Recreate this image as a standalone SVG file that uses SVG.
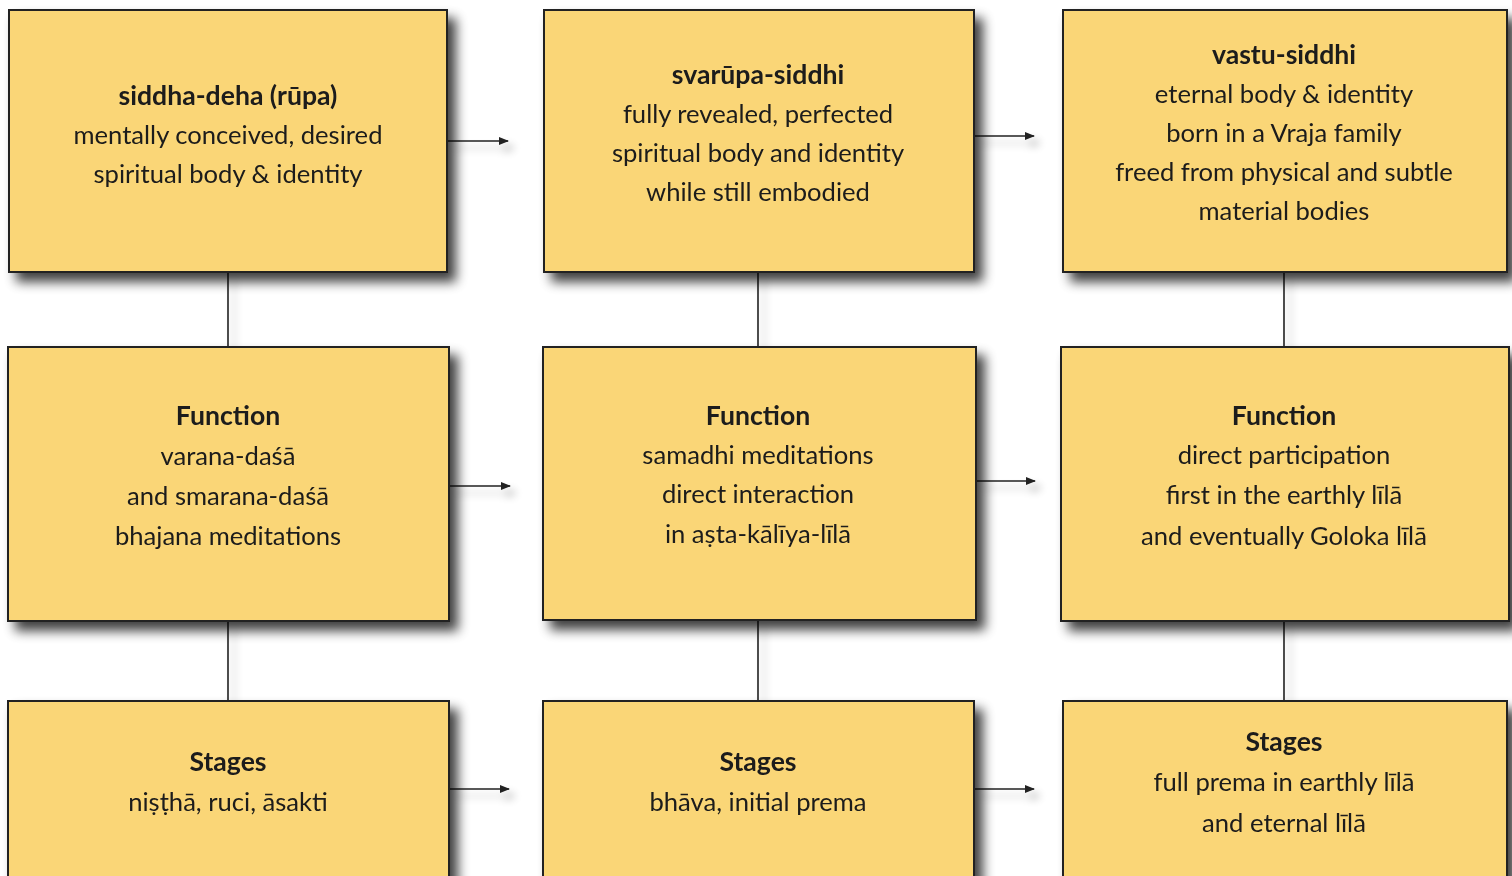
<svg xmlns="http://www.w3.org/2000/svg" width="1512" height="876" viewBox="0 0 1512 876">
  <style>
    .box { fill: #FAD677; stroke: #222; stroke-width: 2; }
    .t { font-family: Lato, "Open Sans", "Noto Sans", sans-serif; font-size: 25.6px; fill: #1a1a1a; text-anchor: middle; }
    .h { font-weight: bold; font-size: 26.6px; }
    .ln { stroke: #222; stroke-width: 1.6; fill: none; }
  </style>
  <defs>
    <filter id="shadow" x="-10%" y="-10%" width="130%" height="140%">
      <feGaussianBlur in="SourceAlpha" stdDeviation="6"/>
      <feOffset dx="8" dy="9" result="b"/>
      <feComponentTransfer><feFuncA type="linear" slope="0.75"/></feComponentTransfer>
      <feMerge><feMergeNode/><feMergeNode in="SourceGraphic"/></feMerge>
    </filter>
    <filter id="lshadow" x="-20%" y="-50%" width="140%" height="300%">
      <feGaussianBlur in="SourceAlpha" stdDeviation="4"/>
      <feOffset dx="6" dy="7"/>
      <feComponentTransfer><feFuncA type="linear" slope="0.3"/></feComponentTransfer>
      <feMerge><feMergeNode/><feMergeNode in="SourceGraphic"/></feMerge>
    </filter>
    <marker id="arrow" markerWidth="10" markerHeight="8" refX="9" refY="4" orient="auto" markerUnits="userSpaceOnUse">
      <path d="M0,0 L10,4 L0,8 Z" fill="#222"/>
    </marker>
  </defs>
  <rect width="1512" height="876" fill="#fff"/>

  <!-- connectors -->
  <g id="connectors" filter="url(#lshadow)">
    <line class="ln" x1="228" y1="272" x2="228" y2="347"/>
    <line class="ln" x1="758" y1="272" x2="758" y2="347"/>
    <line class="ln" x1="1284" y1="272" x2="1284" y2="347"/>
    <line class="ln" x1="228" y1="621" x2="228" y2="701"/>
    <line class="ln" x1="758" y1="620" x2="758" y2="701"/>
    <line class="ln" x1="1284" y1="621" x2="1284" y2="701"/>
    <line class="ln" x1="448" y1="141" x2="508" y2="141" marker-end="url(#arrow)"/>
    <line class="ln" x1="975" y1="136" x2="1034" y2="136" marker-end="url(#arrow)"/>
    <line class="ln" x1="450" y1="486" x2="510" y2="486" marker-end="url(#arrow)"/>
    <line class="ln" x1="977" y1="481" x2="1035" y2="481" marker-end="url(#arrow)"/>
    <line class="ln" x1="450" y1="789" x2="509" y2="789" marker-end="url(#arrow)"/>
    <line class="ln" x1="975" y1="789" x2="1034" y2="789" marker-end="url(#arrow)"/>
  </g>

  <!-- row 1 -->
  <g id="siddha-deha" filter="url(#shadow)">
    <rect class="box" x="9" y="10" width="438" height="262"/>
    <text class="t"><tspan class="h" x="228" y="105">siddha-deha (rūpa)</tspan><tspan x="228" y="144">mentally conceived, desired</tspan><tspan x="228" y="183">spiritual body &amp; identity</tspan></text>
  </g>
  <g id="svarupa-siddhi" filter="url(#shadow)">
    <rect class="box" x="544" y="10" width="430" height="262"/>
    <text class="t"><tspan class="h" x="758" y="84">svarūpa-siddhi</tspan><tspan x="758" y="123">fully revealed, perfected</tspan><tspan x="758" y="162">spiritual body and identity</tspan><tspan x="758" y="201">while still embodied</tspan></text>
  </g>
  <g id="vastu-siddhi" filter="url(#shadow)">
    <rect class="box" x="1063" y="10" width="444" height="262"/>
    <text class="t"><tspan class="h" x="1284" y="64">vastu-siddhi</tspan><tspan x="1284" y="103">eternal body &amp; identity</tspan><tspan x="1284" y="142">born in a Vraja family</tspan><tspan x="1284" y="181">freed from physical and subtle</tspan><tspan x="1284" y="220">material bodies</tspan></text>
  </g>

  <!-- row 2 -->
  <g id="function-1" filter="url(#shadow)">
    <rect class="box" x="8" y="347" width="441" height="274"/>
    <text class="t"><tspan class="h" x="228" y="425">Function</tspan><tspan x="228" y="465">varana-daśā</tspan><tspan x="228" y="505">and smarana-daśā</tspan><tspan x="228" y="545">bhajana meditations</tspan></text>
  </g>
  <g id="function-2" filter="url(#shadow)">
    <rect class="box" x="543" y="347" width="433" height="273"/>
    <text class="t"><tspan class="h" x="758" y="425">Function</tspan><tspan x="758" y="464">samadhi meditations</tspan><tspan x="758" y="503">direct interaction</tspan><tspan x="758" y="543">in aṣta-kālīya-līlā</tspan></text>
  </g>
  <g id="function-3" filter="url(#shadow)">
    <rect class="box" x="1061" y="347" width="448" height="274"/>
    <text class="t"><tspan class="h" x="1284" y="425">Function</tspan><tspan x="1284" y="464">direct participation</tspan><tspan x="1284" y="504">first in the earthly līlā</tspan><tspan x="1284" y="545">and eventually Goloka līlā</tspan></text>
  </g>

  <!-- row 3 -->
  <g id="stages-1" filter="url(#shadow)">
    <rect class="box" x="8" y="701" width="441" height="200"/>
    <text class="t"><tspan class="h" x="228" y="771">Stages</tspan><tspan x="228" y="811">niṣṭhā, ruci, āsakti</tspan></text>
  </g>
  <g id="stages-2" filter="url(#shadow)">
    <rect class="box" x="543" y="701" width="431" height="200"/>
    <text class="t"><tspan class="h" x="758" y="771">Stages</tspan><tspan x="758" y="811">bhāva, initial prema</tspan></text>
  </g>
  <g id="stages-3" filter="url(#shadow)">
    <rect class="box" x="1063" y="701" width="444" height="200"/>
    <text class="t"><tspan class="h" x="1284" y="751">Stages</tspan><tspan x="1284" y="791">full prema in earthly līlā</tspan><tspan x="1284" y="832">and eternal līlā</tspan></text>
  </g>
</svg>
